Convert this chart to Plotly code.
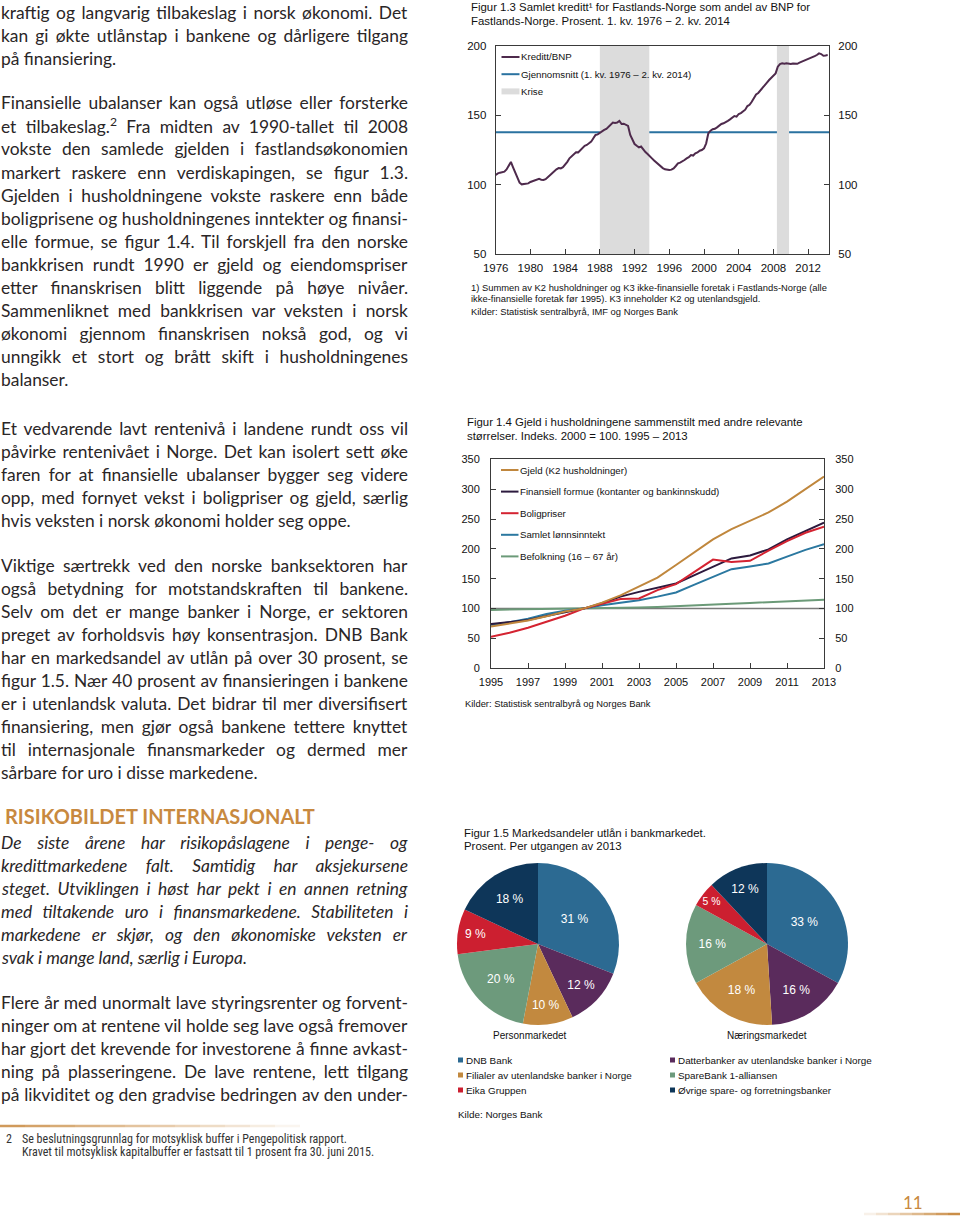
import json
import plotly.graph_objects as go

W, H = 960, 1219


def px(x):
    return x / W


def py(y):
    return 1 - y / H


# ---------------- Data: Figur 1.3 (quarterly, 1976Q1 - 2014Q2) ----------------
credit_start_year = 1976
credit_gdp = [
    107.0, 108.2, 108.7, 109.0,   # 1976
    109.4, 111.0, 113.5, 116.4,   # 1977
    112.5, 108.5, 105.4, 101.5,   # 1978
    100.3, 100.4, 100.6, 101.0,   # 1979
    102.0, 102.5, 103.2, 103.8,   # 1980
    104.2, 103.6, 103.4, 104.0,   # 1981
    105.1, 106.8, 108.2, 109.8,   # 1982
    111.1, 112.0, 111.8, 112.6,   # 1983
    114.2, 116.5, 119.0, 120.5,   # 1984
    122.6, 123.4, 123.3, 124.8,   # 1985
    126.9, 128.0, 128.6, 129.5,   # 1986
    131.0, 133.5, 135.8, 136.2,   # 1987
    137.5, 138.5, 139.4, 140.2,   # 1988
    141.8, 143.8, 144.7, 144.5,   # 1989
    144.7, 145.9, 143.7, 143.9,   # 1990
    143.2, 142.3, 135.8, 132.0,   # 1991
    129.3, 128.0, 126.9, 127.5,   # 1992
    125.0, 123.5, 122.1, 120.8,   # 1993
    119.0, 117.4, 115.9, 114.5,   # 1994
    113.0, 112.0, 111.1, 110.8,   # 1995
    110.6, 110.9, 111.8, 113.5,   # 1996
    115.4, 115.9, 116.6, 117.8,   # 1997
    119.0, 119.8, 121.4, 121.0,   # 1998
    122.6, 123.2, 124.5, 125.0,   # 1999
    126.2, 129.8, 137.0, 138.9,   # 2000
    139.9, 140.3, 141.3, 142.5,   # 2001
    143.7, 144.2, 145.4, 146.0,   # 2002
    147.0, 148.5, 149.4, 149.0,   # 2003
    150.9, 151.5, 152.6, 154.0,   # 2004
    156.6, 157.5, 159.7, 162.0,   # 2005
    165.0, 166.0, 168.1, 170.0,   # 2006
    171.7, 173.5, 175.3, 176.8,   # 2007
    178.2, 180.1, 184.9, 186.8,   # 2008
    187.3, 187.0, 187.3, 186.9,   # 2009
    186.8, 187.2, 187.3, 187.0,   # 2010
    187.8, 188.4, 189.0, 189.6,   # 2011
    190.2, 191.0, 191.6, 192.5,   # 2012
    193.3, 194.5, 194.0, 192.8,   # 2013
    193.0, 193.3,                 # 2014
]
credit_average = 137.7
crisis_periods = [(1988.0, 1993.7), (2008.4, 2009.8)]
credit_ticks = [1976, 1980, 1984, 1988, 1992, 1996, 2000, 2004, 2008, 2012]

# ---------------- Data: Figur 1.4 (annual, 1995 - 2013) ----------------
years_14 = [1995, 1996, 1997, 1998, 1999, 2000, 2001, 2002, 2003, 2004,
            2005, 2006, 2007, 2008, 2009, 2010, 2011, 2012, 2013]
gjeld = [70, 75, 80, 87, 95, 100, 110, 122, 137, 152,
         173, 195, 216, 233, 247, 261, 279, 300, 321]
formue = [74, 77.5, 81, 87.6, 93.7, 100, 109, 120, 128, 135,
          142, 156, 170, 184, 189, 199, 216, 230, 244]
bolig = [53, 59.6, 68, 78, 88, 100, 108, 116, 117, 131,
         141, 162, 182, 178, 180, 197, 213, 227, 237]
lonn = [72.5, 77, 83, 91, 96.5, 100, 105.6, 110, 114, 120,
        127, 140, 152.5, 166, 170.4, 175.4, 187, 198.4, 208]
befolkning = [97.8, 98.2, 98.6, 99.0, 99.5, 100, 100.6, 101.3, 102.0, 102.8,
              103.8, 105.0, 106.5, 108.0, 109.5, 110.8, 112.2, 113.6, 115.0]
index_base = 100
ticks_14 = [1995, 1997, 1999, 2001, 2003, 2005, 2007, 2009, 2011, 2013]

# ---------------- Data: Figur 1.5 (pies) ----------------
banks = ["DNB Bank", "Datterbanker av utenlandske banker i Norge",
         "Filialer av utenlandske banker i Norge", "SpareBank 1-alliansen",
         "Eika Gruppen", "Øvrige spare- og forretningsbanker"]
person_share = [31, 12, 10, 20, 9, 18]
naering_share = [33, 16, 18, 16, 5, 12]
bank_colors = ["#2c6a92", "#5a2b5c", "#c2893f", "#6d9a7c", "#cc1f30", "#0e3659"]

# ---------------- Body text ----------------
text_block1 = [
    "kraftig og langvarig tilbakeslag i norsk økonomi. Det",
    "kan gi økte utlånstap i bankene og dårligere tilgang",
    "på finansiering.",
]
text_block2 = [
    "Finansielle ubalanser kan også utløse eller forsterke",
    "et tilbakeslag.<sup>2</sup> Fra midten av 1990-tallet til 2008",
    "vokste den samlede gjelden i fastlandsøkonomien",
    "markert raskere enn verdiskapingen, se figur 1.3.",
    "Gjelden i husholdningene vokste raskere enn både",
    "boligprisene og husholdningenes inntekter og finansi-",
    "elle formue, se figur 1.4. Til forskjell fra den norske",
    "bankkrisen rundt 1990 er gjeld og eiendomspriser",
    "etter finanskrisen blitt liggende på høye nivåer.",
    "Sammenliknet med bankkrisen var veksten i norsk",
    "økonomi gjennom finanskrisen nokså god, og vi",
    "unngikk et stort og brått skift i husholdningenes",
    "balanser.",
]
text_block3 = [
    "Et vedvarende lavt rentenivå i landene rundt oss vil",
    "påvirke rentenivået i Norge. Det kan isolert sett øke",
    "faren for at finansielle ubalanser bygger seg videre",
    "opp, med fornyet vekst i boligpriser og gjeld, særlig",
    "hvis veksten i norsk økonomi holder seg oppe.",
]
text_block4 = [
    "Viktige særtrekk ved den norske banksektoren har",
    "også betydning for motstandskraften til bankene.",
    "Selv om det er mange banker i Norge, er sektoren",
    "preget av forholdsvis høy konsentrasjon. DNB Bank",
    "har en markedsandel av utlån på over 30 prosent, se",
    "figur 1.5. Nær 40 prosent av finansieringen i bankene",
    "er i utenlandsk valuta. Det bidrar til mer diversifisert",
    "finansiering, men gjør også bankene tettere knyttet",
    "til internasjonale finansmarkeder og dermed mer",
    "sårbare for uro i disse markedene.",
]
heading = "RISIKOBILDET INTERNASJONALT"
text_italic = [
    "De siste årene har risikopåslagene i penge- og",
    "kredittmarkedene falt. Samtidig har aksjekursene",
    "steget. Utviklingen i høst har pekt i en annen retning",
    "med tiltakende uro i finansmarkedene. Stabiliteten i",
    "markedene er skjør, og den økonomiske veksten er",
    "svak i mange land, særlig i Europa.",
]
text_block5 = [
    "Flere år med unormalt lave styringsrenter og forvent-",
    "ninger om at rentene vil holde seg lave også fremover",
    "har gjort det krevende for investorene å finne avkast-",
    "ning på plasseringene. De lave rentene, lett tilgang",
    "på likviditet og den gradvise bedringen av den under-",
]
footnote_lines = [
    "Se beslutningsgrunnlag for motsyklisk buffer i Pengepolitisk rapport.",
    "Kravet til motsyklisk kapitalbuffer er fastsatt til 1 prosent fra 30. juni 2015.",
]

# ---------------- Styles ----------------
BODY_FONT = "Lato, 'Open Sans', sans-serif"
BODY_SIZE = 17.4
BODY_COLOR = "#2a2627"
CHART_FONT = "'Liberation Sans', Arial, sans-serif"
GOLD = "#c8893f"
AX = "#3a3a3a"

col_credit = "#4e2a4c"
col_avg = "#2a72a0"
col_crisis = "#dcdcdc"
col_gjeld = "#c0873d"
col_formue = "#2c1a3e"
col_bolig = "#d42331"
col_lonn = "#2b78a0"
col_befolk = "#6b9a78"
col_base = "#7a7a7a"

fig = go.Figure()

# ---- Figur 1.3 traces ----
credit_x = [credit_start_year + i / 4 for i in range(len(credit_gdp))]
fig.add_trace(go.Scatter(x=credit_x, y=credit_gdp, mode="lines",
                         line=dict(color=col_credit, width=2),
                         xaxis="x", yaxis="y", showlegend=False, hoverinfo="skip"))
fig.add_trace(go.Scatter(x=credit_x, y=credit_gdp, mode="lines", opacity=0,
                         xaxis="x", yaxis="y2", showlegend=False, hoverinfo="skip"))

# ---- Figur 1.4 traces ----
series_14 = [
    ("Befolkning (16 – 67 år)", befolkning, col_befolk),
    ("Samlet lønnsinntekt", lonn, col_lonn),
    ("Finansiell formue (kontanter og bankinnskudd)", formue, col_formue),
    ("Boligpriser", bolig, col_bolig),
    ("Gjeld (K2 husholdninger)", gjeld, col_gjeld),
]
for name, vals, col in series_14:
    fig.add_trace(go.Scatter(x=years_14, y=vals, mode="lines", name=name,
                             line=dict(color=col, width=2),
                             xaxis="x2", yaxis="y3", showlegend=False, hoverinfo="skip"))
fig.add_trace(go.Scatter(x=years_14, y=gjeld, mode="lines", opacity=0,
                         xaxis="x2", yaxis="y4", showlegend=False, hoverinfo="skip"))

# ---- Figur 1.5 pies ----
pie_common = dict(sort=False, direction="clockwise", rotation=0,
                  marker=dict(colors=bank_colors, line=dict(width=0)),
                  texttemplate="%{value} %", textposition="inside",
                  insidetextorientation="horizontal",
                  textfont=dict(family=CHART_FONT, size=12, color="white"),
                  showlegend=False, hoverinfo="skip")
fig.add_trace(go.Pie(labels=banks, values=person_share,
                     domain=dict(x=[px(457), px(619)], y=[py(1025), py(863)]),
                     **pie_common))
fig.add_trace(go.Pie(labels=banks, values=naering_share,
                     domain=dict(x=[px(686), px(848)], y=[py(1025), py(863)]),
                     **pie_common))

# ---- Axes ----
axis_base = dict(showline=True, linecolor=AX, linewidth=1, ticks="inside",
                 ticklen=5, tickcolor=AX, showgrid=False, zeroline=False,
                 automargin=False,
                 tickfont=dict(family=CHART_FONT, size=11.5, color="#111"))

fig.update_layout(
    xaxis=dict(axis_base, domain=[px(495.7), px(829)], anchor="y",
               range=[1976, 2014.4], tickvals=credit_ticks, mirror=True,
               ticklabelstandoff=3),
    yaxis=dict(axis_base, domain=[py(254.3), py(45.7)], anchor="x",
               range=[50, 200], dtick=50, ticklabelstandoff=6),
    yaxis2=dict(axis_base, overlaying="y", side="right", anchor="x",
                range=[50, 200], dtick=50, ticklabelstandoff=6),
    xaxis2=dict(axis_base, domain=[px(491), px(824)], anchor="y3",
                range=[1995, 2013], tickvals=ticks_14, mirror=True,
                ticklabelstandoff=3,
                tickfont=dict(family=CHART_FONT, size=11, color="#111")),
    yaxis3=dict(axis_base, domain=[py(668.3), py(459.3)], anchor="x2",
                range=[0, 350], dtick=50, ticklabelstandoff=8,
                tickfont=dict(family=CHART_FONT, size=11, color="#111")),
    yaxis4=dict(axis_base, overlaying="y3", side="right", anchor="x2",
                range=[0, 350], dtick=50, ticklabelstandoff=8,
                tickfont=dict(family=CHART_FONT, size=11, color="#111")),
)

shapes = []
for a, b in crisis_periods:
    shapes.append(dict(type="rect", xref="x", yref="y", x0=a, x1=b, y0=50, y1=200,
                       fillcolor=col_crisis, line=dict(width=0), layer="below"))
shapes.append(dict(type="line", xref="x domain", yref="y", x0=0, x1=1,
                   y0=credit_average, y1=credit_average,
                   line=dict(color=col_avg, width=2), layer="below"))
shapes.append(dict(type="line", xref="x2 domain", yref="y3", x0=0, x1=1,
                   y0=index_base, y1=index_base,
                   line=dict(color=col_base, width=1.5), layer="below"))

annotations = []
justify_idx = []


def txt(x, y, s, size=BODY_SIZE, family=BODY_FONT, color=BODY_COLOR,
        xanchor="left", italic=False, bold=False, justify=False):
    if italic:
        s = "<i>" + s + "</i>"
    if bold:
        s = "<b>" + s + "</b>"
    if justify:
        justify_idx.append(len(annotations))
    annotations.append(dict(x=px(x), y=py(y), xref="paper", yref="paper",
                            text=s, showarrow=False, xanchor=xanchor,
                            yanchor="middle", align="left", borderpad=0,
                            font=dict(family=family, size=size, color=color)))


# ---- Fig 1.3 texts ----
cs = 11.4
txt(470, 7, "Figur 1.3 Samlet kreditt¹ for Fastlands-Norge som andel av BNP for",
    size=cs, family=CHART_FONT, color="#111")
txt(470, 21, "Fastlands-Norge. Prosent. 1. kv. 1976 − 2. kv. 2014",
    size=cs, family=CHART_FONT, color="#111")
fs = 9.4
txt(470, 287, "1) Summen av K2 husholdninger og K3 ikke-finansielle foretak i Fastlands-Norge (alle",
    size=fs, family=CHART_FONT, color="#111")
txt(470, 299, "ikke-finansielle foretak før 1995). K3 inneholder K2 og utenlandsgjeld.",
    size=fs, family=CHART_FONT, color="#111")
txt(470, 311, "Kilder: Statistisk sentralbyrå, IMF og Norges Bank",
    size=fs, family=CHART_FONT, color="#111")

legend_13 = [("Kreditt/BNP", col_credit, 2),
             ("Gjennomsnitt (1. kv. 1976 – 2. kv. 2014)", col_avg, 2),
             ("Krise", col_crisis, 6)]
for i, (name, col, w) in enumerate(legend_13):
    yy = 57 + i * 17.2
    shapes.append(dict(type="line", xref="paper", yref="paper", x0=px(501.5), x1=px(519.5),
                       y0=py(yy), y1=py(yy), line=dict(color=col, width=w)))
    txt(519.5, yy, name, size=9.7, family=CHART_FONT, color="#111")

# ---- Fig 1.4 texts ----
txt(465.5, 422.5, "Figur 1.4 Gjeld i husholdningene sammenstilt med andre relevante",
    size=cs, family=CHART_FONT, color="#111")
txt(465.5, 435.5, "størrelser. Indeks. 2000 = 100. 1995 – 2013",
    size=cs, family=CHART_FONT, color="#111")
txt(464, 703.5, "Kilder: Statistisk sentralbyrå og Norges Bank",
    size=fs, family=CHART_FONT, color="#111")
legend_14 = [("Gjeld (K2 husholdninger)", col_gjeld),
             ("Finansiell formue (kontanter og bankinnskudd)", col_formue),
             ("Boligpriser", col_bolig), ("Samlet lønnsinntekt", col_lonn),
             ("Befolkning (16 – 67 år)", col_befolk)]
for i, (name, col) in enumerate(legend_14):
    yy = 470 + i * 21.6
    shapes.append(dict(type="line", xref="paper", yref="paper", x0=px(501), x1=px(518.5),
                       y0=py(yy), y1=py(yy), line=dict(color=col, width=2)))
    txt(518.5, yy, name, size=9.7, family=CHART_FONT, color="#111")

# ---- Fig 1.5 texts ----
txt(463, 832.5, "Figur 1.5 Markedsandeler utlån i bankmarkedet.", size=cs,
    family=CHART_FONT, color="#111")
txt(463, 846, "Prosent. Per utgangen av 2013", size=cs, family=CHART_FONT, color="#111")
txt(530, 1035, "Personmarkedet", size=10, family=CHART_FONT, color="#111", xanchor="center")
txt(767, 1035, "Næringsmarkedet", size=10, family=CHART_FONT, color="#111", xanchor="center")
legend_pos = [(458, 1060), (670, 1060), (458, 1075), (670, 1075), (458, 1090), (670, 1090)]
for (lx, ly), name, col in zip(legend_pos, banks, bank_colors):
    shapes.append(dict(type="rect", xref="paper", yref="paper", x0=px(lx), x1=px(lx + 5),
                       y0=py(ly + 2.5), y1=py(ly - 2.5), fillcolor=col, line=dict(width=0)))
    txt(lx + 6.5, ly, name, size=9.9, family=CHART_FONT, color="#111")
txt(456.5, 1114.5, "Kilde: Norges Bank", size=9.9, family=CHART_FONT, color="#111")

# ---- Body text ----
LH = 23
TEXT_LEFT = 0


def block(lines, y0, justify_all=False, **kw):
    n = len(lines)
    for i, s in enumerate(lines):
        txt(TEXT_LEFT, y0 + i * LH, s, justify=(justify_all or i < n - 1), **kw)


block(text_block1, 12)
block(text_block2, 103)
block(text_block3, 428)
block(text_block4, 565)
txt(TEXT_LEFT + 4, 816, heading, size=20, color=GOLD, bold=True)
block(text_italic, 842, italic=True)
block(text_block5, 1002, justify_all=True)

# footnote
for i in range(12):
    shapes.append(dict(type="line", xref="paper", yref="paper",
                       x0=px(i * 25), x1=px(i * 25 + 25), y0=py(1126), y1=py(1126),
                       line=dict(color=GOLD, width=2.5), opacity=max(0.05, 0.85 - i * 0.07)))
FN_FONT = "'Liberation Sans Narrow', 'Roboto Condensed', 'Liberation Sans', sans-serif"
txt(5, 1139, "2", size=12, family=FN_FONT, color="#333")
txt(21, 1139, footnote_lines[0], size=12, family=FN_FONT, color="#333")
txt(21, 1152, footnote_lines[1], size=12, family=FN_FONT, color="#333")

# page number
txt(913, 1202, "11", size=17, family=BODY_FONT, color=GOLD, xanchor="center")
for i in range(8):
    shapes.append(dict(type="line", xref="paper", yref="paper",
                       x0=px(960 - (i + 1) * 12), x1=px(960 - i * 12), y0=py(1214), y1=py(1214),
                       line=dict(color=GOLD, width=2.5), opacity=max(0.05, 0.95 - i * 0.12)))

fig.update_layout(
    width=W, height=H,
    margin=dict(l=0, r=0, t=0, b=0, pad=0, autoexpand=False),
    paper_bgcolor="white", plot_bgcolor="rgba(0,0,0,0)",
    shapes=shapes, annotations=annotations, showlegend=False,
)

# page without browser body margin; justify body lines to the column edge (x = 408 px)
JUSTIFY_RIGHT = 408
post_js = """
try {
  document.documentElement.style.margin = '0';
  document.documentElement.style.padding = '0';
  document.body.style.margin = '0';
  document.body.style.padding = '0';
  document.body.style.overflow = 'hidden';
  var gd = document.getElementById('{plot_id}');
  var idx = %s;
  var right = %d;
  var gl = gd.getBoundingClientRect().left;
  idx.forEach(function(i) {
    var g = gd.querySelector('g.annotation[data-index="' + i + '"]');
    if (!g) return;
    var t = g.querySelector('text.annotation-text');
    if (!t) return;
    var s = t.textContent || '';
    var n = (s.match(/ /g) || []).length;
    if (n === 0) return;
    var r0 = t.getBoundingClientRect();
    var target = (gl + right) - r0.left;
    var ws = (target - r0.width) / n;
    t.style.wordSpacing = ws + 'px';
    var r1 = t.getBoundingClientRect();
    if (Math.abs(r1.width - r0.width) < 0.5 && Math.abs(ws) > 0.5) {
      t.style.wordSpacing = '';
      t.setAttribute('textLength', target);
      t.setAttribute('lengthAdjust', 'spacing');
      r1 = t.getBoundingClientRect();
    }
    var dx = r0.left - r1.left;
    var tr = t.getAttribute('transform') || '';
    t.setAttribute('transform', tr + ' translate(' + dx + ',0)');
  });
} catch (e) {}
""" % (json.dumps(justify_idx), JUSTIFY_RIGHT)

fig.write_html("out.html", post_script=post_js,
               config={"displayModeBar": False, "responsive": False})
